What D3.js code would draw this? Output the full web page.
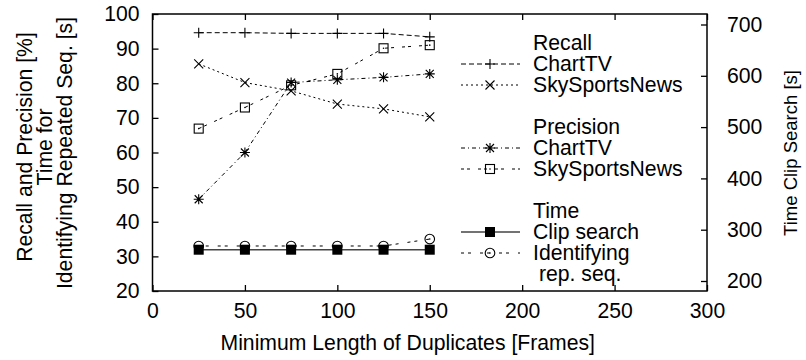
<!DOCTYPE html>
<html><head><meta charset="utf-8">
<script src="https://cdn.jsdelivr.net/npm/d3@7"></script>
<style>
html,body{margin:0;padding:0;background:#fff;}
svg text{font-family:"Liberation Sans",Arial,sans-serif;fill:#000;}
</style></head>
<body>
<svg id="chart" width="806" height="360"></svg>
<script>
const xValues = [25, 50, 75, 100, 125, 150];
const recallChartTV = [94.6, 94.6, 94.4, 94.4, 94.4, 93.4];
const recallSkySports = [85.6, 80.2, 77.8, 74.0, 72.6, 70.3];
const precisionChartTV = [46.5, 60.0, 80.2, 81.0, 81.7, 82.7];
const precisionSkySports = [66.9, 73.0, 79.4, 82.7, 90.1, 91.0];
const timeClipSearch = [261, 261, 261, 261, 261, 261];
const timeIdentifying = [33.0, 33.0, 33.0, 33.0, 33.0, 35.0];
const xTicks = [0, 50, 100, 150, 200, 250, 300];
const yTicks = [20, 30, 40, 50, 60, 70, 80, 90, 100];
const y2Ticks = [200, 300, 400, 500, 600, 700];

const FS = 21.2;
const svg = d3.select("#chart");
const L = 152.5, R = 707, T = 14, B = 291;
const x = d3.scaleLinear().domain([0, 300]).range([L, R]);
const y = d3.scaleLinear().domain([20, 100]).range([B, T]);
const y2 = d3.scaleLinear().domain([200, 700]).range([281, 24.5]);

function styleAxis(g){
  g.select(".domain").remove();
  g.selectAll(".tick line").attr("stroke","#000").attr("stroke-width",1.3);
  g.selectAll("text").attr("font-size",FS).attr("font-family","Liberation Sans, Arial, sans-serif");
}
svg.append("g").attr("transform",`translate(0,${B})`)
  .call(d3.axisBottom(x).tickValues(xTicks).tickSize(-6).tickPadding(12).tickFormat(d3.format("d")))
  .call(styleAxis);
svg.append("g").attr("transform",`translate(0,${T})`)
  .call(d3.axisTop(x).tickValues(xTicks).tickSize(-6).tickFormat(""))
  .call(styleAxis);
svg.append("g").attr("transform",`translate(${L},0)`)
  .call(d3.axisLeft(y).tickValues(yTicks).tickSize(-6).tickPadding(13).tickFormat(d3.format("d")))
  .call(styleAxis);
svg.append("g").attr("transform",`translate(${R},0)`)
  .call(d3.axisRight(y2).tickValues(y2Ticks).tickSize(-6).tickPadding(20).tickFormat(d3.format("d")))
  .call(styleAxis);
svg.append("rect").attr("x",L).attr("y",T).attr("width",R-L).attr("height",B-T)
  .attr("fill","none").attr("stroke","#000").attr("stroke-width",1.5);

// axis titles
svg.append("text").attr("x",(L+R)/2-22).attr("y",350).attr("text-anchor","middle").attr("font-size",FS)
  .text("Minimum Length of Duplicates [Frames]");
const yl = [["Recall and Precision [%]",25,147],["Time for",45,147],["Identifying Repeated Seq. [s]",65,153]];
yl.forEach(([t,cx,cy])=>{
  svg.append("text").attr("transform",`translate(${cx},${cy}) rotate(-90)`).attr("text-anchor","middle")
    .attr("dy","0.35em").attr("font-size",FS).text(t);
});
svg.append("text").attr("transform",`translate(791,153) rotate(-90)`).attr("text-anchor","middle")
  .attr("dy","0.35em").attr("font-size",18.5).text("Time Clip Search [s]");

// markers
function marker(g, type, cx, cy){
  const s = 5;
  if(type==="plus"){
    g.append("path").attr("d",`M${cx-s},${cy}H${cx+s}M${cx},${cy-s}V${cy+s}`).attr("stroke","#000").attr("stroke-width",1.1).attr("fill","none");
  } else if(type==="cross"){
    g.append("path").attr("d",`M${cx-4.5},${cy-4.5}L${cx+4.5},${cy+4.5}M${cx-4.5},${cy+4.5}L${cx+4.5},${cy-4.5}`).attr("stroke","#000").attr("stroke-width",1.1).attr("fill","none");
  } else if(type==="star"){
    g.append("path").attr("d",`M${cx-s},${cy}H${cx+s}M${cx},${cy-s}V${cy+s}M${cx-4},${cy-4}L${cx+4},${cy+4}M${cx-4},${cy+4}L${cx+4},${cy-4}`).attr("stroke","#000").attr("stroke-width",1.1).attr("fill","none");
  } else if(type==="box"){
    g.append("rect").attr("x",cx-4.5).attr("y",cy-4.5).attr("width",9).attr("height",9).attr("fill","none").attr("stroke","#000").attr("stroke-width",1.1);
    g.append("circle").attr("cx",cx).attr("cy",cy).attr("r",0.8).attr("fill","#000");
  } else if(type==="fbox"){
    g.append("rect").attr("x",cx-5).attr("y",cy-5).attr("width",10).attr("height",10).attr("fill","#000");
  } else if(type==="circle"){
    g.append("circle").attr("cx",cx).attr("cy",cy).attr("r",4.8).attr("fill","none").attr("stroke","#000").attr("stroke-width",1.1);
    g.append("circle").attr("cx",cx).attr("cy",cy).attr("r",0.8).attr("fill","#000");
  }
}

const series = [
  {vals: recallChartTV, sc: y, dash:"5,3", mk:"plus", color:"#000", w:1},
  {vals: recallSkySports, sc: y, dash:"2,3", mk:"cross", color:"#000", w:1},
  {vals: precisionChartTV, sc: y, dash:"4,3,1,3", mk:"star", color:"#000", w:1},
  {vals: precisionSkySports, sc: y, dash:"3,3,3,8", mk:"box", color:"#000", w:1},
  {vals: timeClipSearch, sc: y2, dash:null, mk:"fbox", color:"#444", w:1.5},
  {vals: timeIdentifying, sc: y, dash:"3,4,3,9", mk:"circle", color:"#000", w:1}
];
const lineG = svg.append("g");
series.forEach(s=>{
  const line = d3.line().x((d,i)=>x(xValues[i])).y(d=>s.sc(d));
  lineG.append("path").datum(s.vals).attr("d",line).attr("fill","none")
    .attr("stroke",s.color).attr("stroke-width",s.w).attr("stroke-dasharray",s.dash);
});
series.forEach(s=>{
  const g = svg.append("g");
  s.vals.forEach((v,i)=>marker(g, s.mk, x(xValues[i]), s.sc(v)));
});

// legend
const legendRows = [
  {text:"Recall", row:0},
  {text:"ChartTV", row:1, s:0},
  {text:"SkySportsNews", row:2, s:1},
  {text:"Precision", row:4},
  {text:"ChartTV", row:5, s:2},
  {text:"SkySportsNews", row:6, s:3},
  {text:"Time", row:8},
  {text:"Clip search", row:9, s:4},
  {text:"Identifying", row:10, s:5},
  {text:"\u00a0rep. seq.", row:11}
];
const lg = svg.append("g");
legendRows.forEach(r=>{
  const cy = 43 + r.row*21;
  lg.append("text").attr("x",533).attr("y",cy).attr("dy","0.35em").attr("font-size",FS).text(r.text);
  if(r.s!==undefined){
    const s = series[r.s];
    lg.append("line").attr("x1",461).attr("x2",520).attr("y1",cy).attr("y2",cy)
      .attr("stroke",s.color).attr("stroke-width",s.w).attr("stroke-dasharray",s.dash);
    marker(lg, s.mk, 490, cy);
  }
});
</script>
</body></html>
